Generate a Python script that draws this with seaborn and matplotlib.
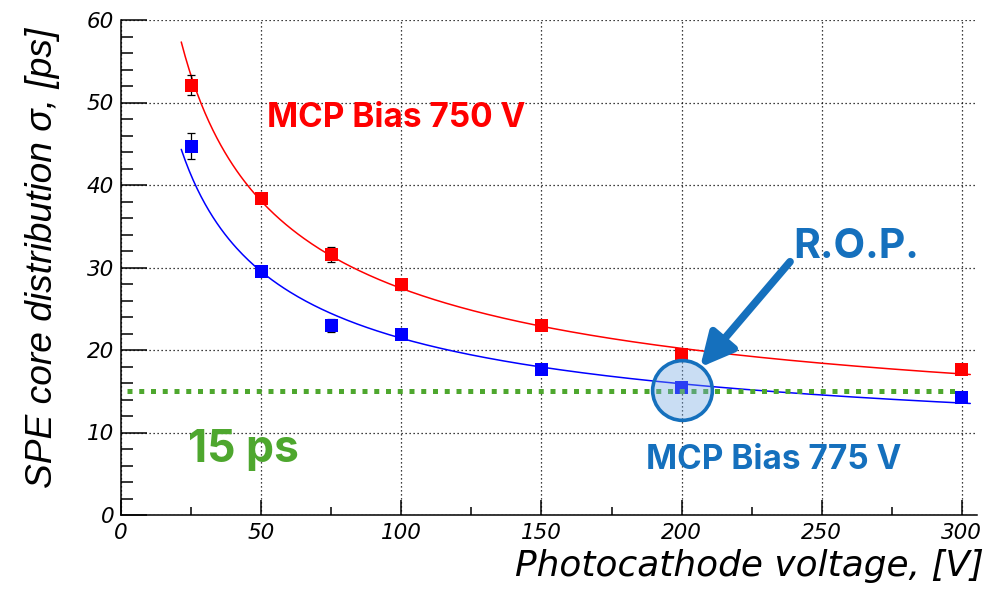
import numpy as np
import pandas as pd
import matplotlib
matplotlib.use("Agg")
import matplotlib.pyplot as plt
import seaborn as sns

# Photocathode voltage settings [V]
voltage = [25, 50, 75, 100, 150, 200, 300]

# SPE core sigma [ps] and uncertainties for two MCP bias settings
sigma_750 = [52.1, 38.4, 31.6, 27.9, 23.0, 19.4, 17.6]
err_750 = [1.2, 0.5, 0.9, 0.6, 0.6, 0.4, 0.4]
sigma_775 = [44.7, 29.5, 23.0, 21.9, 17.6, 15.4, 14.2]
err_775 = [1.6, 0.4, 0.8, 0.5, 0.5, 0.4, 0.4]

series_labels = ["MCP Bias 750 V", "MCP Bias 775 V"]
target_ps = 15
rop_voltage = 200
rop_sigma = 15.2

x_ticks = [0, 50, 100, 150, 200, 250, 300]
y_ticks = [0, 10, 20, 30, 40, 50, 60]

RED = "#ff0000"
BLUE = "#0000ff"
OFFICE_BLUE = "#1570bd"
GREEN = "#4ea72e"


def fit_quadrature(x, y, e):
    """Fit sigma = sqrt(a^2 + b^2 / V): linear weighted least squares in sigma^2."""
    x = np.asarray(x, float)
    y = np.asarray(y, float)
    w = 1.0 / (2.0 * y * np.asarray(e, float))
    A = np.column_stack([np.ones_like(x), 1.0 / x])
    coef, *_ = np.linalg.lstsq(A * w[:, None], y ** 2 * w, rcond=None)
    a2, b2 = coef
    return lambda t: np.sqrt(np.clip(a2 + b2 / t, 0, None))


sns.set_theme(style="white")
plt.rcParams["font.family"] = ["Liberation Sans", "DejaVu Sans"]
plt.rcParams["text.color"] = "black"
plt.rcParams["xtick.color"] = "black"
plt.rcParams["ytick.color"] = "black"

fig = plt.figure(figsize=(9.91, 5.95), dpi=100)
ax = fig.add_axes([121 / 991, 80 / 595, (977 - 121) / 991, (515 - 20) / 595])

pts = pd.DataFrame({
    "voltage": voltage * 2,
    "sigma": sigma_750 + sigma_775,
    "err": err_750 + err_775,
    "bias": [series_labels[0]] * len(voltage) + [series_labels[1]] * len(voltage),
})

# fitted curves
xf = np.linspace(21.5, 303, 400)
curves = []
for lab, s, e in [(series_labels[0], sigma_750, err_750), (series_labels[1], sigma_775, err_775)]:
    f = fit_quadrature(voltage, s, e)
    curves.append(pd.DataFrame({"voltage": xf, "sigma": f(xf), "bias": lab}))
curves = pd.concat(curves)

palette = {series_labels[0]: RED, series_labels[1]: BLUE}
sns.lineplot(data=curves, x="voltage", y="sigma", hue="bias", palette=palette,
             lw=1.1, legend=False, ax=ax, zorder=3)

# error bars
for lab in series_labels:
    d = pts[pts["bias"] == lab]
    ax.errorbar(d["voltage"], d["sigma"], yerr=d["err"], fmt="none",
                ecolor="black", elinewidth=0.9, capsize=3, capthick=0.9, zorder=4)

sns.scatterplot(data=pts, x="voltage", y="sigma", hue="bias", palette=palette,
                marker="s", s=88, linewidth=0, legend=False, ax=ax, zorder=5)

# 15 ps reference line
ax.plot([2, 298], [target_ps, target_ps], color=GREEN, lw=3.6,
        linestyle=(0, (1.0, 1.35)), solid_capstyle="butt", dash_capstyle="butt", zorder=6)

# highlighted operating point
ax.plot([rop_voltage], [rop_sigma], marker="o", markersize=43,
        markerfacecolor=(0.45, 0.65, 0.88, 0.38), markeredgecolor=OFFICE_BLUE,
        markeredgewidth=2.6, zorder=7)

ax.annotate("", xy=(206.6, 17.9), xytext=(238.7, 30.7),
            arrowprops=dict(arrowstyle="-|>,head_length=1.0,head_width=0.5",
                            color=OFFICE_BLUE, lw=5.5, mutation_scale=20,
                            shrinkA=0, shrinkB=0),
            zorder=8)

bold_font = ["Inter", "DejaVu Sans"]
ax.text(52.1, 47.0, series_labels[0], color=RED, fontsize=24, fontweight="bold",
        family=bold_font, ha="left", va="baseline", zorder=9)
ax.text(187.3, 5.58, series_labels[1], color=OFFICE_BLUE, fontsize=24, fontweight="bold",
        family=bold_font, ha="left", va="baseline", zorder=9)
ax.text(239.7, 31.15, "R.O.P.", color=OFFICE_BLUE, fontsize=29.5, fontweight="bold",
        family=bold_font, ha="left", va="baseline", zorder=9)
ax.text(23.9, 6.42, f"{target_ps} ps", color=GREEN, fontsize=32, fontweight="bold",
        family=bold_font, ha="left", va="baseline", zorder=9)

# axes styling
tick_font = ["DejaVu Sans"]
ax.set_xlim(0, 305.4)
ax.set_ylim(0, 60)
ax.set_xticks(x_ticks)
ax.set_yticks(y_ticks)
ax.set_xticks(np.arange(25, 305, 50), minor=True)
ax.set_yticks(np.arange(2, 60, 2), minor=True)
ax.set_xticklabels([str(v) for v in x_ticks], fontsize=15.5, style="italic", family=tick_font)
ax.set_yticklabels([str(v) for v in y_ticks], fontsize=15.5, style="italic", family=tick_font)
ax.tick_params(axis="x", which="major", direction="in", length=10.8, width=1.1, pad=6)
ax.tick_params(axis="x", which="minor", direction="in", length=5.8, width=1.1)
ax.tick_params(axis="y", which="major", direction="in", length=18.7, width=1.1, pad=5)
ax.tick_params(axis="y", which="minor", direction="in", length=8.6, width=1.1)
ax.tick_params(bottom=True, left=True, top=False, right=False, which="both")

ax.grid(True, which="major", color="black", lw=0.9, linestyle=(0, (1, 2.2)))
for side in ["top", "right"]:
    ax.spines[side].set_visible(False)
for side in ["left", "bottom"]:
    ax.spines[side].set_color("black")
    ax.spines[side].set_linewidth(1.1)
ax.set_xlabel("")
ax.set_ylabel("")

fig.text(60 / 991, 1 - 28 / 595, "SPE core distribution σ, [ps]", rotation=90,
         ha="right", va="top", fontsize=26.7, style="italic")
fig.text(984 / 991, 1 - 576 / 595, "Photocathode voltage, [V]",
         ha="right", va="baseline", fontsize=25.8, style="italic", family=tick_font)

fig.savefig("out.png", dpi=100)
